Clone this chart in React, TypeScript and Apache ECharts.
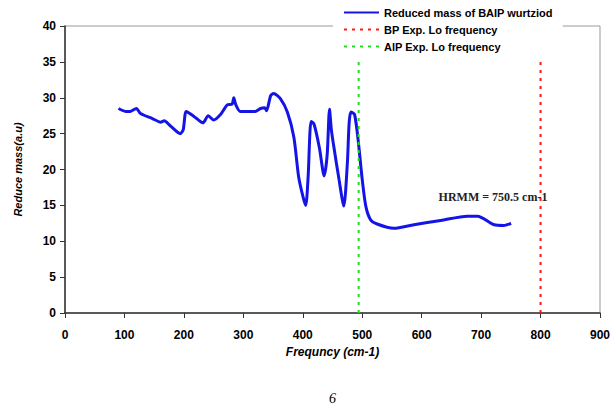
import React, { useEffect, useRef } from "react";
import * as echarts from "echarts";

const freq = [90, 102, 110, 120, 127, 147, 161, 167, 177, 194, 199, 204, 217, 232, 241, 250, 262, 273, 281, 284, 287, 295, 320, 329, 336, 339, 346, 351, 362, 374, 385, 393, 401, 405, 409, 414, 419, 428, 436, 441, 445, 448, 452, 461, 469, 475, 478, 481, 487, 493, 500, 506, 514, 525, 553, 587, 632, 677, 694, 722, 738, 750.5];
const mass = [28.5, 28.1, 28.1, 28.5, 27.8, 27.1, 26.6, 26.8, 26.1, 25.0, 25.6, 28.1, 27.4, 26.5, 27.5, 26.9, 27.7, 29.0, 29.1, 30.0, 29.1, 28.1, 28.1, 28.5, 28.6, 28.2, 30.3, 30.6, 29.9, 28.0, 24.5, 19.0, 16.0, 15.0, 19.0, 26.7, 26.3, 23.0, 19.1, 22.0, 28.4, 25.6, 23.3, 18.6, 14.9, 20.9, 26.5, 28.0, 27.7, 24.2, 18.6, 14.9, 13.0, 12.4, 11.8, 12.3, 12.9, 13.5, 13.5, 12.3, 12.2, 12.5];

const bpFreq = 800;
const alpFreq = 494;
const refLineTop = 35.4;

const seriesNames = ["Reduced mass of BAIP wurtziod", "BP Exp. Lo frequency", "AlP Exp. Lo frequency"];
const hrmmLabel = "HRMM = 750.5 cm-1";
const hrmmPos = [720, 16.1];

export default function App() {
  const ref = useRef<HTMLDivElement>(null);
  useEffect(() => {
    const chart = echarts.init(ref.current!, null, { renderer: "svg" });
    const bold = { fontFamily: "Arial, 'Liberation Sans', sans-serif", fontWeight: "bold" as const, color: "#000" };
    chart.setOption({
      animation: false,
      backgroundColor: "#fff",
      grid: { left: 65, right: 14, top: 26, bottom: 94, show: true, borderColor: "#999", borderWidth: 1 },
      legend: {
        orient: "vertical",
        left: 333,
        top: 4,
        itemWidth: 35,
        itemHeight: 10,
        itemGap: 6,
        padding: [3, 10, 3, 10],
        backgroundColor: "#fff",
        itemStyle: { opacity: 0 },
        textStyle: { ...bold, fontSize: 11 },
        data: seriesNames,
      },
      xAxis: {
        type: "value",
        min: 0,
        max: 900,
        interval: 100,
        name: "Frequncy (cm-1)",
        nameLocation: "middle",
        nameGap: 31,
        nameTextStyle: { ...bold, fontStyle: "italic", fontSize: 12 },
        axisLine: { lineStyle: { color: "#333", width: 1.5 } },
        axisTick: { show: true, length: 5, lineStyle: { color: "#333" } },
        axisLabel: { ...bold, fontSize: 12, margin: 16 },
        splitLine: { show: false },
      },
      yAxis: {
        type: "value",
        min: 0,
        max: 40,
        interval: 5,
        name: "Reduce mass(a.u)",
        nameLocation: "middle",
        nameGap: 42,
        nameTextStyle: { ...bold, fontStyle: "italic", fontSize: 11 },
        axisLine: { show: true, lineStyle: { color: "#333", width: 1.5 } },
        axisTick: { show: true, length: 5, lineStyle: { color: "#333" } },
        axisLabel: { ...bold, fontSize: 12, margin: 9 },
        splitLine: { show: false },
      },
      series: [
        {
          name: seriesNames[0],
          type: "line",
          data: freq.map((f, i) => [f, mass[i]]),
          showSymbol: false,
          symbol: "none",
          smooth: 0.25,
          lineStyle: { color: "#1414e6", width: 3 },
          itemStyle: { color: "#1414e6" },
          markPoint: {
            symbol: "circle",
            symbolSize: 0,
            data: [{ coord: hrmmPos, value: hrmmLabel }],
            label: {
              show: true,
              position: "inside",
              formatter: hrmmLabel,
              fontFamily: "'Liberation Serif', 'Times New Roman', serif",
              fontWeight: "bold",
              fontSize: 12,
              color: "#222",
            },
          },
        },
        {
          name: seriesNames[1],
          type: "line",
          data: [[bpFreq, 0], [bpFreq, refLineTop]],
          showSymbol: false,
          symbol: "none",
          lineStyle: { color: "#ff1a1a", width: 2, type: [3, 5] },
          itemStyle: { color: "#ff1a1a" },
        },
        {
          name: seriesNames[2],
          type: "line",
          data: [[alpFreq, 0], [alpFreq, refLineTop]],
          showSymbol: false,
          symbol: "none",
          lineStyle: { color: "#22dd22", width: 2, type: [3, 5] },
          itemStyle: { color: "#22dd22" },
        },
      ],
      graphic: [
        {
          type: "text",
          left: 329,
          top: 391,
          style: { text: "6", font: "italic 14px 'Liberation Serif', serif", fill: "#000" },
        },
      ],
    });
    return () => chart.dispose();
  }, []);
  return <div ref={ref} style={{ position: "fixed", left: 0, top: 0, width: 614, height: 407 }} />;
}
